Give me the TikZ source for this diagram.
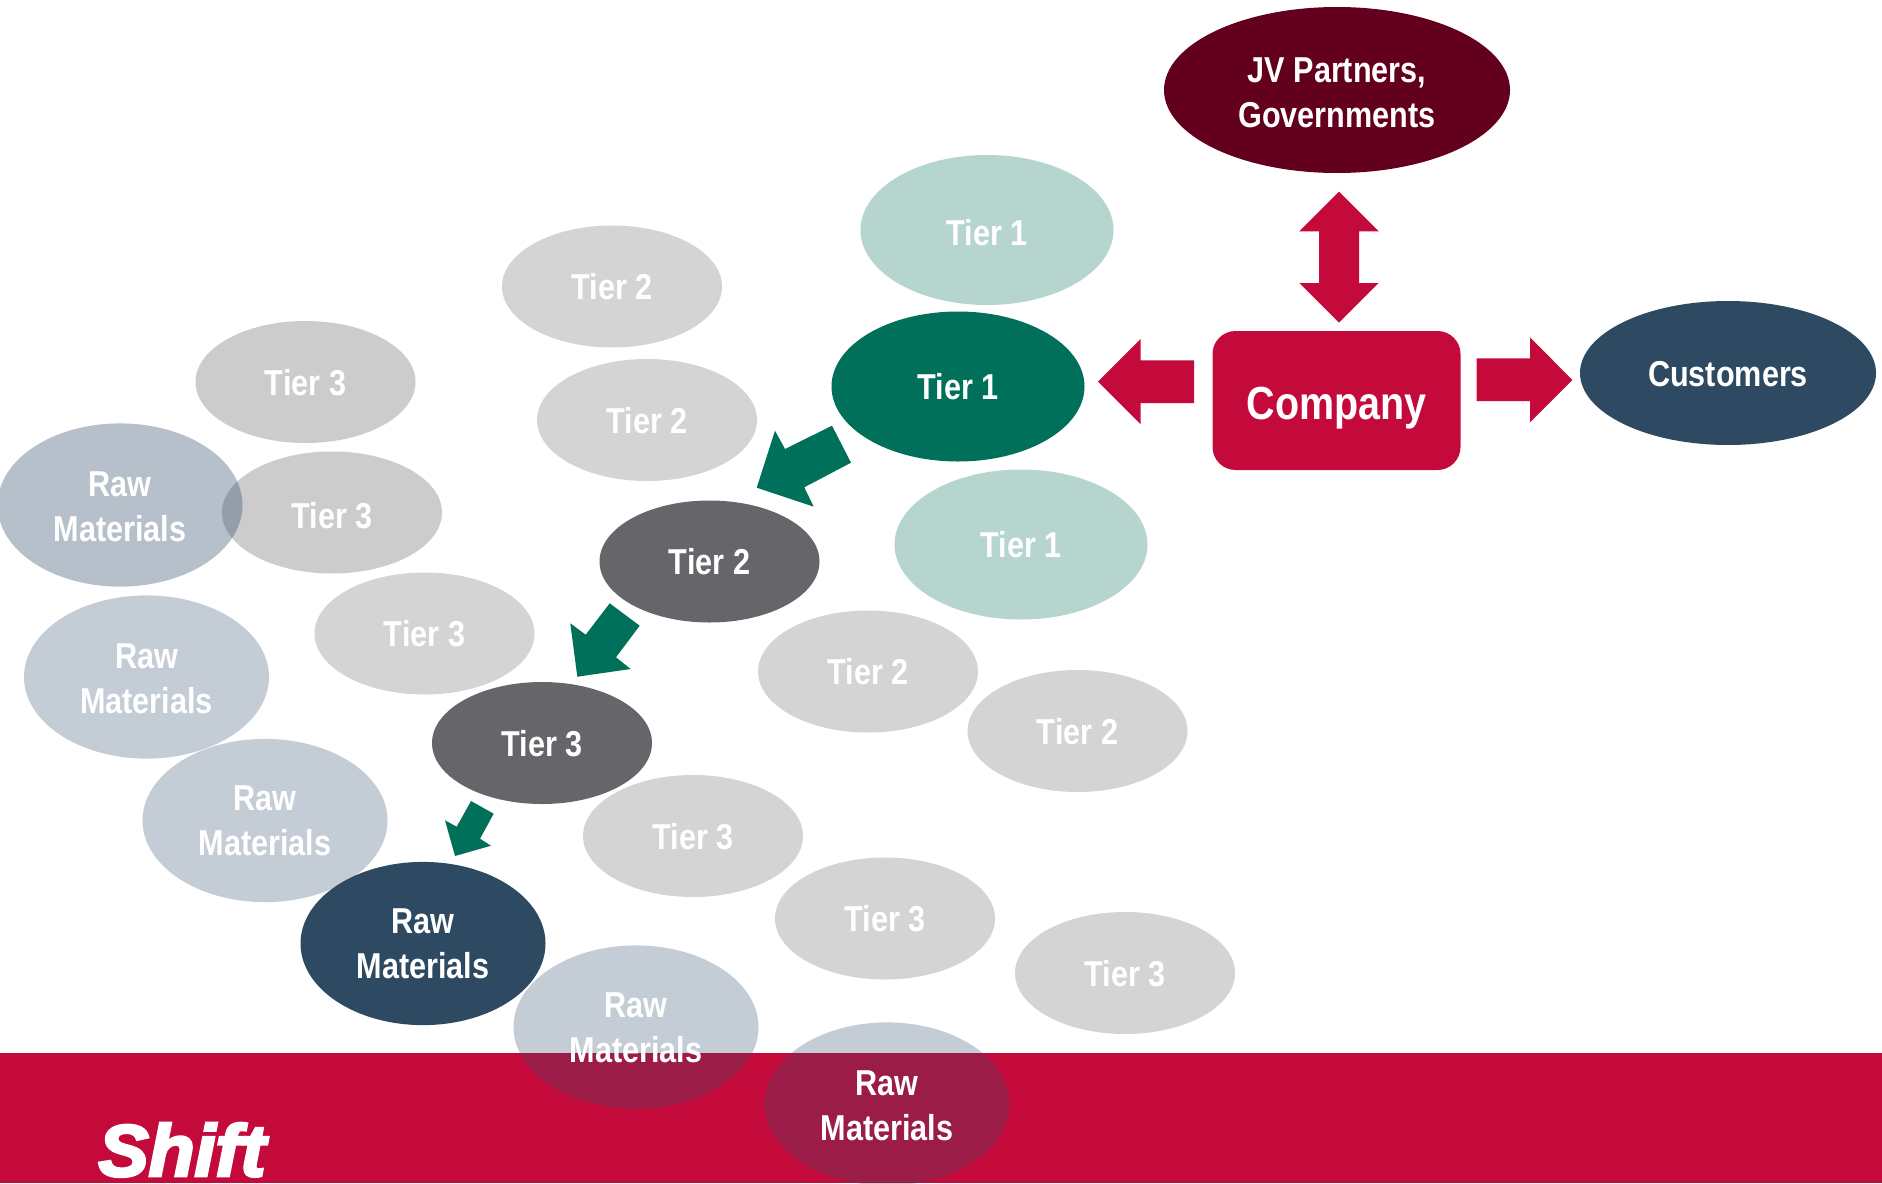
\documentclass[tikz,border=0pt]{standalone}
\usepackage{fontspec}
\usetikzlibrary{shapes.geometric}
\newfontfamily\lab{Liberation Sans}[FakeStretch=0.85]
\newfontfamily\logofont{Liberation Sans}[FakeBold=4,FakeStretch=1.03]
\definecolor{crim}{HTML}{C40A3B}
\definecolor{wine}{HTML}{62001E}
\definecolor{navy}{HTML}{2E4A62}
\definecolor{rawtint}{HTML}{2E4B69}
\definecolor{grn}{HTML}{00705A}
\definecolor{lgrn}{HTML}{B5D5CE}
\definecolor{dgrey}{HTML}{666569}
\newcommand{\lift}[1]{\rule{0pt}{#1}}
\tikzset{
  oval/.style={ellipse,inner sep=0pt,outer sep=0pt,draw=none,text=white,align=center,
    font=\lab\bfseries\fontsize{18}{22.5}\selectfont},
  tiersize/.style={oval,minimum width=110pt,minimum height=61pt},
  tieronesize/.style={oval,minimum width=126.5pt,minimum height=75pt},
  rawsize/.style={oval,minimum width=122.5pt,minimum height=81.6pt},
  tierone/.style={tieronesize,fill=grn},
  tieronelight/.style={tieronesize,fill=lgrn},
  tierdark/.style={tiersize,fill=dgrey},
  tierlight/.style={tiersize,fill=dgrey,fill opacity=.28,text opacity=1},
  tiermid/.style={tiersize,fill=dgrey,fill opacity=.33,text opacity=1},
  rawdark/.style={rawsize,fill=navy},
  rawlight/.style={rawsize,fill=rawtint,fill opacity=.28,text opacity=1},
  rawmid/.style={rawsize,fill=rawtint,fill opacity=.35,text opacity=1},
  redarrow/.style={fill=crim,draw=none},
  grnarrow/.style={fill=grn,draw=none},
}
\begin{document}
\begin{tikzpicture}[x=.5pt,y=-.5pt]
\useasboundingbox (0,0) rectangle (1882,1183);
\clip (0,0) rectangle (1882,1183);
\fill[white] (0,0) rectangle (1882,1183);
\fill[crim] (0,1053) rectangle (1882,1183);
\node[anchor=base,inner sep=0pt,text=white,font=\logofont\bfseries\itshape\fontsize{36.5}{38}\selectfont] (logo) at (182,1176) {Shift};

\node[tierlight] (t2a) at (612,286.5) {\lift{13.5pt}Tier 2};
\node[tierlight] (t2b) at (647,420) {\lift{13.5pt}Tier 2};
\node[tierlight] (t2d) at (868,671.5) {\lift{13.5pt}Tier 2};
\node[tierlight] (t2e) at (1077.5,731) {\lift{13.5pt}Tier 2};
\node[tiermid] (t3a) at (305.5,382) {\lift{13.5pt}Tier 3};
\node[tiermid] (t3b) at (332,512.5) {\lift{15.9pt}Tier 3};
\node[tierlight] (t3c) at (424.5,633.5) {\lift{13.5pt}Tier 3};
\node[tierlight] (t3e) at (693,836) {\lift{13.5pt}Tier 3};
\node[tierlight] (t3f) at (885,918.5) {\lift{13.5pt}Tier 3};
\node[tierlight] (t3g) at (1125,973) {\lift{13.5pt}Tier 3};
\node[tieronelight] (t1a) at (987,230) {\lift{15.9pt}Tier 1};
\node[tieronelight] (t1c) at (1021,544.5) {\lift{13.5pt}Tier 1};
\node[tierone] (t1b) at (958,386.5) {\lift{13.5pt}Tier 1};
\node[tierdark] (t2c) at (709.5,561.5) {\lift{13.5pt}Tier 2};
\node[tierdark] (t3d) at (542,743) {\lift{13.5pt}Tier 3};

\node[rawmid] (ra) at (120,505) {\lift{14.2pt}Raw\\Materials};
\node[rawlight] (rb) at (146.5,677) {\lift{14.2pt}Raw\\Materials};
\node[rawlight] (rc) at (265,820.5) {\lift{13pt}Raw\\Materials};
\node[rawlight] (re) at (636,1027) {\lift{13.5pt}Raw\\Materials};
\node[rawlight] (rf) at (887,1104) {\lift{14.2pt}Raw\\Materials};
\node[rawdark] (rd) at (423,943.5) {\lift{13pt}Raw\\Materials};

\node[oval,fill=wine,minimum width=173pt,minimum height=83pt] (jv) at (1337,90) {\lift{15.4pt}JV Partners,\\Governments};
\node[oval,fill=navy,minimum width=148pt,minimum height=72pt] (cust) at (1728,373) {\lift{14pt}Customers};
\node[rectangle,fill=crim,rounded corners=11.5pt,text=white,minimum width=124pt,minimum height=69.5pt,inner sep=0pt,
  text height=18.8pt,text depth=0pt,
  font=\lab\bfseries\fontsize{23.2}{28}\selectfont] (co) at (1336.5,400.5) {Company};

\fill[redarrow] (1339,191.7) -- (1378.7,231.3) -- (1359,231.3) -- (1359,283) -- (1378.7,283) -- (1339,322.7)
  -- (1299.3,283) -- (1319,283) -- (1319,231.3) -- (1299.3,231.3) -- cycle;
\fill[redarrow] (1098,381.7) -- (1140.7,339) -- (1140.7,360.3) -- (1194,360.3) -- (1194,403) -- (1140.7,403) -- (1140.7,424.3) -- cycle;
\fill[redarrow] (1572.3,380) -- (1530,337.3) -- (1530,358.3) -- (1476.7,358.3) -- (1476.7,401) -- (1530,401) -- (1530,422.3) -- cycle;

\fill[grnarrow] (832,425.7) -- (851,462.7) -- (804.3,487.3) -- (813.7,506.7) -- (756.7,487.7) -- (775,430.7) -- (785,449) -- cycle;
\fill[grnarrow] (609.7,603.3) -- (639.7,625.7) -- (616,657.3) -- (630.7,669) -- (577.3,676.7) -- (570.3,623.3) -- (585.7,634.7) -- cycle;
\fill[grnarrow] (471,801) -- (493.7,813.7) -- (480,838.7) -- (491,845.7) -- (455,856) -- (445,820.3) -- (456.7,826.7) -- cycle;
\end{tikzpicture}
\end{document}
